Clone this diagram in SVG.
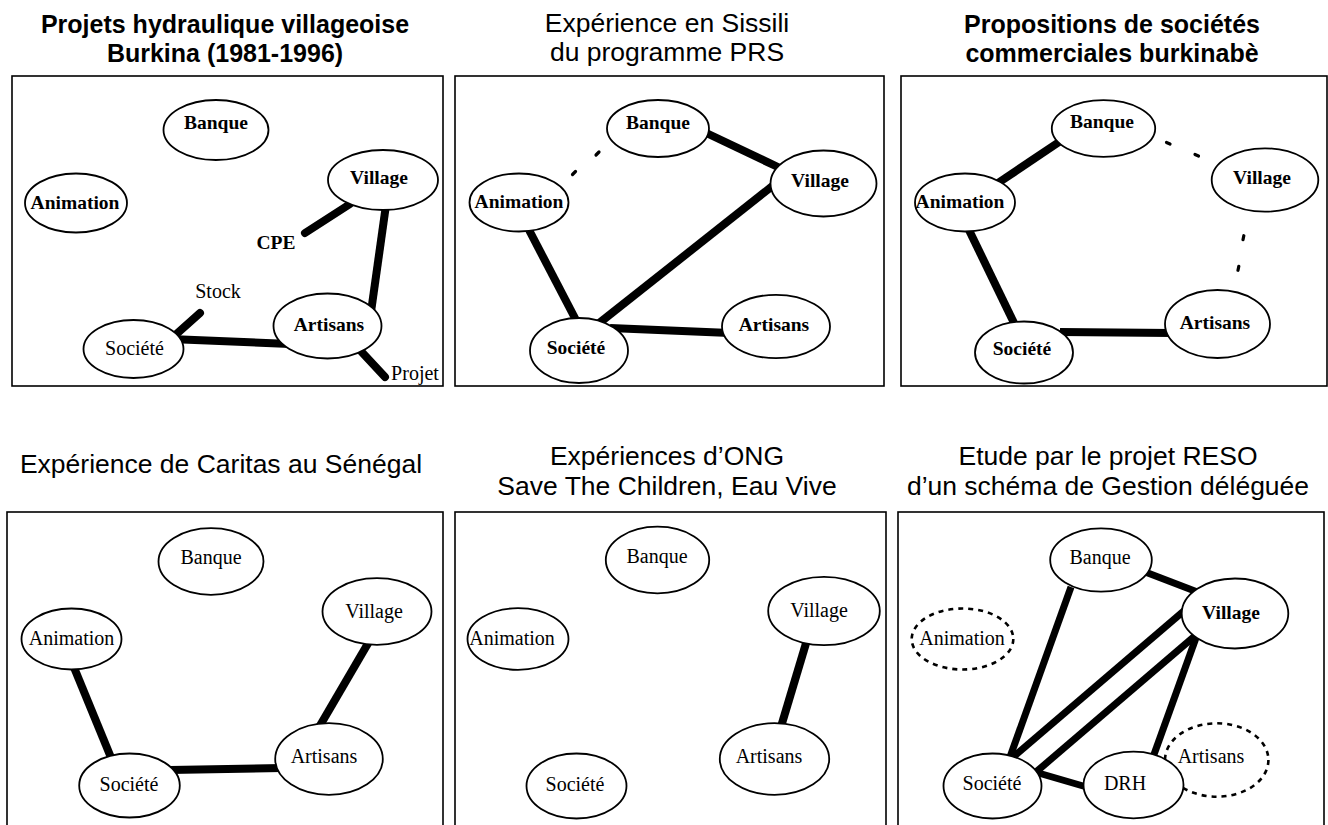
<svg xmlns="http://www.w3.org/2000/svg" width="1328" height="825" viewBox="0 0 1328 825">
<style>
.bg{fill:#fff}
.frame{fill:none;stroke:#000;stroke-width:1.6}
.title{font-family:"Liberation Sans",Arial,sans-serif;font-size:26.5px;text-anchor:middle;fill:#000}
.tb{font-weight:bold;font-size:25px}
.node ellipse{fill:#fff;stroke:#000;stroke-width:1.8}
.node.dash ellipse{stroke-dasharray:5 5;stroke-width:2.6}
.lbl{font-family:"Liberation Serif","Times New Roman",serif;font-size:20px;text-anchor:middle;fill:#000}
.b{font-weight:bold;font-size:19.5px}
.edge{stroke:#000;stroke-width:8;fill:none}
.r{stroke-linecap:round}
.thin{stroke-width:7}
.mark{stroke:#000;stroke-width:3.2;stroke-linecap:round;fill:none}
</style>
<rect class="bg" x="0" y="0" width="1328" height="825"/>

<g id="frames">
<rect class="frame" x="12" y="76" width="431" height="310"/>
<rect class="frame" x="455" y="76" width="429" height="310"/>
<rect class="frame" x="901" y="76" width="426" height="310"/>
<rect class="frame" x="7" y="512" width="436" height="330"/>
<rect class="frame" x="455" y="512" width="431" height="330"/>
<rect class="frame" x="898" y="512" width="426" height="330"/>
</g>

<g id="titles">
<text class="title tb" x="225" y="33">Projets hydraulique villageoise</text>
<text class="title tb" x="225" y="62">Burkina (1981-1996)</text>
<text class="title" x="667" y="32">Expérience en Sissili</text>
<text class="title" x="667" y="61">du programme PRS</text>
<text class="title tb" x="1112" y="33">Propositions de sociétés</text>
<text class="title tb" x="1112" y="62">commerciales burkinabè</text>
<text class="title" x="221" y="473">Expérience de Caritas au Sénégal</text>
<text class="title" x="667" y="465">Expériences d’ONG</text>
<text class="title" x="667" y="495">Save The Children, Eau Vive</text>
<text class="title" x="1108" y="465">Etude par le projet RESO</text>
<text class="title" x="1108" y="495">d’un schéma de Gestion déléguée</text>
</g>

<g id="connectors">
<!-- panel 1 -->
<line class="edge r" x1="350" y1="204" x2="305" y2="233"/>
<line class="edge" x1="386" y1="205" x2="371" y2="312"/>
<line class="edge r" x1="200" y1="313" x2="172" y2="338"/>
<line class="edge" x1="170" y1="339" x2="290" y2="344"/>
<line class="edge r" x1="358" y1="348" x2="385" y2="377"/>
<!-- panel 2 -->
<line class="edge" x1="700" y1="130" x2="780" y2="168"/>
<line class="edge" x1="528" y1="228" x2="577" y2="322"/>
<line class="edge" x1="598" y1="324" x2="780" y2="180"/>
<line class="edge" x1="610" y1="328" x2="730" y2="333"/>
<path class="mark" d="M596,155 l3,-3 M572.5,174.5 l3,-3"/>
<!-- panel 3 -->
<line class="edge" x1="1065" y1="138" x2="995" y2="185"/>
<line class="edge" x1="968" y1="228" x2="1015" y2="325"/>
<line class="edge" x1="1060" y1="332" x2="1172" y2="333"/>
<path class="mark" d="M1166.5,142.5 l3.5,1.5 M1195,154.5 l3.5,1.5"/>
<path class="mark" d="M1243.8,235.7 l-0.8,4 M1238.8,266.3 l-0.8,4"/>
<!-- panel 4 -->
<line class="edge" x1="73" y1="665" x2="112" y2="760"/>
<line class="edge" x1="370" y1="640" x2="318" y2="729"/>
<line class="edge" x1="170" y1="770" x2="282" y2="768"/>
<!-- panel 5 -->
<line class="edge" x1="807" y1="640" x2="780" y2="730"/>
<!-- panel 6 -->
<line class="edge thin" x1="1140" y1="570" x2="1200" y2="593"/>
<line class="edge thin" x1="1071" y1="587" x2="1010" y2="757"/>
<line class="edge thin" x1="1192" y1="604" x2="1012" y2="758"/>
<line class="edge thin" x1="1196" y1="635" x2="1036" y2="772"/>
<line class="edge thin" x1="1197" y1="635" x2="1152" y2="760"/>
<line class="edge thin" x1="1035" y1="772" x2="1090" y2="788"/>
</g>

<!-- panel 1 nodes -->
<g id="p1-banque" class="node"><ellipse cx="216" cy="130" rx="52.5" ry="30"/><text class="lbl b" x="216" y="129">Banque</text></g>
<g id="p1-animation" class="node"><ellipse cx="76" cy="203" rx="51" ry="29.5"/><text class="lbl b" x="75" y="208.5">Animation</text></g>
<g id="p1-village" class="node"><ellipse cx="383" cy="180" rx="55" ry="30"/><text class="lbl b" x="379" y="184">Village</text></g>
<g id="p1-artisans" class="node"><ellipse cx="327.5" cy="326" rx="54" ry="32.5"/><text class="lbl b" x="329" y="330.5">Artisans</text></g>
<g id="p1-societe" class="node"><ellipse cx="133.5" cy="349" rx="50" ry="29"/><text class="lbl" x="134.5" y="355">Société</text></g>
<g id="p1-cpe"><text class="lbl b" x="276" y="249">CPE</text></g>
<g id="p1-stock"><text class="lbl" x="218" y="298">Stock</text></g>
<g id="p1-projet"><text class="lbl" x="415" y="380">Projet</text></g>

<!-- panel 2 nodes -->
<g id="p2-banque" class="node"><ellipse cx="658" cy="128.5" rx="51" ry="28.5"/><text class="lbl b" x="658" y="128.5">Banque</text></g>
<g id="p2-village" class="node"><ellipse cx="823.5" cy="183.5" rx="53" ry="33"/><text class="lbl b" x="820" y="187">Village</text></g>
<g id="p2-animation" class="node"><ellipse cx="519" cy="202.5" rx="49.5" ry="29"/><text class="lbl b" x="519" y="208">Animation</text></g>
<g id="p2-societe" class="node"><ellipse cx="579" cy="350.5" rx="49" ry="32.5"/><text class="lbl b" x="576" y="354">Société</text></g>
<g id="p2-artisans" class="node"><ellipse cx="776" cy="326.5" rx="54" ry="31.7"/><text class="lbl b" x="774" y="330.5">Artisans</text></g>

<!-- panel 3 nodes -->
<g id="p3-banque" class="node"><ellipse cx="1103.5" cy="128.5" rx="51.7" ry="28.3"/><text class="lbl b" x="1102" y="128">Banque</text></g>
<g id="p3-village" class="node"><ellipse cx="1265" cy="180" rx="53.3" ry="31.7"/><text class="lbl b" x="1262" y="184">Village</text></g>
<g id="p3-animation" class="node"><ellipse cx="965" cy="202.5" rx="50" ry="29"/><text class="lbl b" x="960" y="208">Animation</text></g>
<g id="p3-societe" class="node"><ellipse cx="1024" cy="352.5" rx="49" ry="31"/><text class="lbl b" x="1022" y="355">Société</text></g>
<g id="p3-artisans" class="node"><ellipse cx="1217.5" cy="324" rx="52.5" ry="34"/><text class="lbl b" x="1215" y="329">Artisans</text></g>

<!-- panel 4 nodes -->
<g id="p4-banque" class="node"><ellipse cx="211" cy="561.5" rx="52.5" ry="33.3"/><text class="lbl" x="211" y="564">Banque</text></g>
<g id="p4-village" class="node"><ellipse cx="377" cy="611.5" rx="54.5" ry="33.3"/><text class="lbl" x="374" y="618">Village</text></g>
<g id="p4-animation" class="node"><ellipse cx="71.5" cy="639" rx="50" ry="30.5"/><text class="lbl" x="71.5" y="645">Animation</text></g>
<g id="p4-societe" class="node"><ellipse cx="129.5" cy="785.5" rx="50.3" ry="32"/><text class="lbl" x="129" y="791">Société</text></g>
<g id="p4-artisans" class="node"><ellipse cx="329" cy="759" rx="53.8" ry="35.8"/><text class="lbl" x="324" y="763">Artisans</text></g>

<!-- panel 5 nodes -->
<g id="p5-banque" class="node"><ellipse cx="657.5" cy="560" rx="51.7" ry="33.3"/><text class="lbl" x="657" y="563">Banque</text></g>
<g id="p5-village" class="node"><ellipse cx="824" cy="611" rx="55.8" ry="34.2"/><text class="lbl" x="819" y="617">Village</text></g>
<g id="p5-animation" class="node"><ellipse cx="518" cy="639" rx="50.5" ry="30.8"/><text class="lbl" x="512" y="645">Animation</text></g>
<g id="p5-societe" class="node"><ellipse cx="576.5" cy="786" rx="50" ry="32.5"/><text class="lbl" x="575" y="791">Société</text></g>
<g id="p5-artisans" class="node"><ellipse cx="774.5" cy="759" rx="54.7" ry="35.8"/><text class="lbl" x="769" y="763">Artisans</text></g>

<!-- panel 6 nodes -->
<g id="p6-banque" class="node"><ellipse cx="1101" cy="560" rx="50.8" ry="31.7"/><text class="lbl" x="1100" y="564">Banque</text></g>
<g id="p6-village" class="node"><ellipse cx="1235" cy="613.5" rx="53.3" ry="35"/><text class="lbl b" x="1231" y="619">Village</text></g>
<g id="p6-animation" class="node dash"><ellipse cx="962.5" cy="639" rx="50.8" ry="30.5"/><text class="lbl" x="962" y="645">Animation</text></g>
<g id="p6-artisans" class="node dash"><ellipse cx="1216.7" cy="760" rx="51.7" ry="36.7"/><text class="lbl" x="1211" y="763">Artisans</text></g>
<g id="p6-societe" class="node"><ellipse cx="992.5" cy="786" rx="49" ry="32.5"/><text class="lbl" x="992" y="790">Société</text></g>
<g id="p6-drh" class="node"><ellipse cx="1133.5" cy="785" rx="50" ry="33.3"/><text class="lbl" x="1125" y="790">DRH</text></g>
</svg>
